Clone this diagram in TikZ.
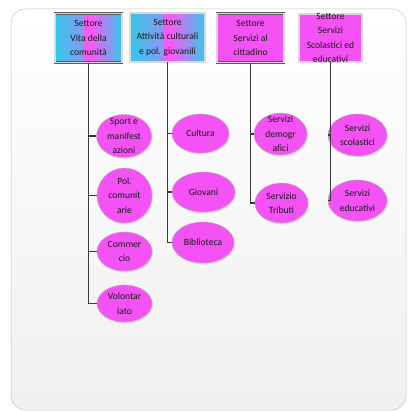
\documentclass[tikz,border=0pt]{standalone}
\usepackage{fontspec}
\setmainfont{Carlito}
\usetikzlibrary{shapes.geometric,shadows}
\definecolor{cyanb}{HTML}{33C8EC}
\definecolor{magb}{HTML}{F55CF5}
\definecolor{magfill}{HTML}{F452F4}
\definecolor{linec}{HTML}{3A3A3A}
\tikzset{
  every node/.style={font=\fontsize{9.6}{14.5}\selectfont, text=black!90},
  headbox/.style={rectangle, minimum width=#1, minimum height=49pt, inner sep=0pt, draw=gray!70!black, line width=0.6pt,
    double=white!70!gray, double distance=1.2pt, align=center},
  cyanbox/.style={path picture={
    \shade[left color=cyanb, right color=magb] (path picture bounding box.south west) rectangle ([xshift=-4pt]path picture bounding box.north);
    \fill[magb] ([xshift=-4.1pt]path picture bounding box.south) rectangle ([xshift=4.1pt]path picture bounding box.north);
    \shade[left color=magb, right color=cyanb] ([xshift=4pt]path picture bounding box.south) rectangle (path picture bounding box.north east);}},
  magbox/.style={fill=magfill},
  leaf/.style={ellipse, fill=magfill, draw=gray!60, line width=0.4pt, minimum width=#1, inner sep=0pt,
    drop shadow={opacity=0.25, shadow xshift=1pt, shadow yshift=-1.5pt}},
  conn/.style={draw=linec, line width=1.2pt},
}
\begin{document}
\begin{tikzpicture}[x=1pt,y=-1pt]
\useasboundingbox (0,0) rectangle (407,412);
\fill[white] (0,0) rectangle (407,412);
\shade[top color=white, bottom color=gray!12, draw=gray!45, line width=0.5pt, rounded corners=14pt] (11,9) rectangle (406,410);

% header boxes
\node[headbox=67pt, cyanbox] (b1) at (88.5,38) {Settore\\Vita della\\comunità};
\node[headbox=75pt, cyanbox] (b2) at (167.5,37.5) {Settore\\Attività culturali\\e pol. giovanili};
\node[headbox=67pt, magbox] (b3) at (250.5,38) {Settore\\Servizi al\\cittadino};
\node[headbox=63pt, magbox, minimum height=48pt] (b4) at (330.5,38) {};

% leaves column 1
\node[leaf=55pt, minimum height=43pt] (l11) at (124,136) {};
\node[leaf=55pt, minimum height=55pt] (l12) at (124.5,195.5) {};
\node[leaf=55pt, minimum height=39pt] (l13) at (124.5,251.5) {};
\node[leaf=55pt, minimum height=37pt] (l14) at (124.5,303.5) {};
% column 2
\node[leaf=57pt, minimum height=39pt] (l21) at (200.5,133.5) {};
\node[leaf=63pt, minimum height=40pt] (l22) at (203.5,192) {};
\node[leaf=62pt, minimum height=41pt] (l23) at (203,242.5) {};
% column 3
\node[leaf=53pt, minimum height=42pt] (l31) at (280.5,134) {};
\node[leaf=53pt, minimum height=40pt] (l32) at (281.5,203) {};
% column 4
\node[leaf=59pt, minimum height=42pt] (l41) at (357.5,135) {};
\node[leaf=59pt, minimum height=41pt] (l42) at (357.5,200.5) {};

% connectors
\foreach \l in {l11,l12,l13,l14} \draw[conn] (b1.south) |- (\l.west);
\foreach \l in {l21,l22,l23} \draw[conn] (b2.south) |- (\l.west);
\foreach \l in {l31,l32} \draw[conn] (b3.south) |- (\l.west);
\foreach \l in {l41,l42} \draw[conn] (b4.south) |- (\l.west);

% texts
\node[align=center] (t4) at (330.5,38) {Settore\\Servizi\\Scolastici ed\\educativi};
\node[align=center] (t11) at (l11) {Sport e\\manifest\\azioni};
\node[align=center] (t12) at (l12) {Pol.\\comunit\\arie};
\node[align=center] (t13) at (l13) {Commer\\cio};
\node[align=center] (t14) at (l14) {Volontar\\iato};
\node (t21) at (l21) {Cultura};
\node (t22) at (l22) {Giovani};
\node (t23) at (l23) {Biblioteca};
\node[align=center] (t31) at (l31) {Servizi\\demogr\\afici};
\node[align=center] (t32) at (l32) {Servizio\\Tributi};
\node[align=center] (t41) at (l41) {Servizi\\scolastici};
\node[align=center] (t42) at (l42) {Servizi\\educativi};
\end{tikzpicture}
\end{document}
